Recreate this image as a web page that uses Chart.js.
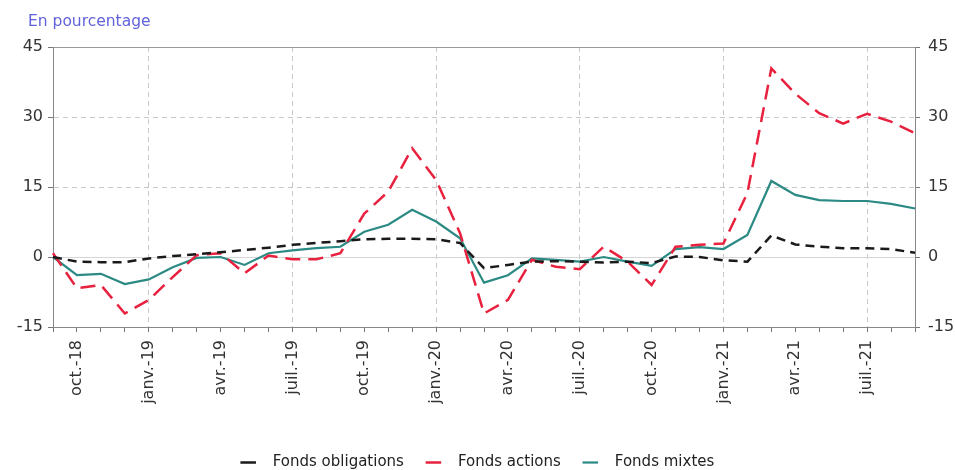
<!DOCTYPE html>
<html><head><meta charset="utf-8">
<script src="https://cdn.jsdelivr.net/npm/chart.js@4.4.1/dist/chart.umd.min.js"></script>
<style>
html,body{margin:0;padding:0;overflow:hidden;background:#fff;}
#wrap{position:relative;width:955px;height:480px;}
#title{position:absolute;left:28px;top:12px;font:15.5px "DejaVu Sans";color:#6262dc;}
canvas{display:block;}
</style></head><body>
<div id="wrap"><div id="title">En pourcentage</div><canvas id="c" width="955" height="480"></canvas></div>
<script>
const categories = [
  "sept.-18","oct.-18","nov.-18","déc.-18",
  "janv.-19","févr.-19","mars-19","avr.-19","mai-19","juin-19","juil.-19","août-19","sept.-19","oct.-19","nov.-19","déc.-19",
  "janv.-20","févr.-20","mars-20","avr.-20","mai-20","juin-20","juil.-20","août-20","sept.-20","oct.-20","nov.-20","déc.-20",
  "janv.-21","févr.-21","mars-21","avr.-21","mai-21","juin-21","juil.-21","août-21","sept.-21"
];
const tickLabels = ["oct.-18","janv.-19","avr.-19","juil.-19","oct.-19","janv.-20","avr.-20","juil.-20","oct.-20","janv.-21","avr.-21","juil.-21"];
const gridLabels = ["janv.-19","juil.-19","janv.-20","juil.-20","janv.-21","juil.-21"];
const yTicks = [-15, 0, 15, 30, 45];

const fondsObligations = [0, -1.0, -1.1, -1.1, -0.3, 0.2, 0.6, 1.0, 1.5, 2.0, 2.6, 3.0, 3.4, 3.8, 3.9, 3.9, 3.8, 3.0, -2.4, -1.7, -1.0, -0.9, -1.0, -1.2, -1.0, -1.3, 0.1, 0.0, -0.7, -1.0, 4.6, 2.7, 2.2, 1.9, 1.9, 1.7, 0.9];
const fondsActions = [0.8, -6.7, -6.0, -12.1, -9.2, -4.3, 0.4, 0.8, -3.5, 0.3, -0.5, -0.5, 0.8, 9.3, 14.0, 23.3, 16.5, 5.1, -12.1, -9.2, -0.6, -2.1, -2.6, 2.2, -1.0, -6.0, 2.2, 2.6, 2.9, 13.7, 40.4, 35.0, 30.8, 28.6, 30.7, 29.0, 26.5];
const fondsMixtes = [0, -3.9, -3.6, -5.8, -4.8, -2.2, -0.2, 0.0, -1.7, 0.8, 1.4, 1.9, 2.2, 5.4, 6.9, 10.1, 7.6, 4.0, -5.5, -3.9, -0.3, -0.6, -1.0, 0.0, -1.0, -1.9, 1.7, 2.1, 1.7, 4.7, 16.3, 13.3, 12.2, 12.0, 12.0, 11.4, 10.4];

const FONT = "DejaVu Sans";
const TRANSP = "rgba(0,0,0,0)";

new Chart(document.getElementById("c"), {
  type: "line",
  data: {
    labels: categories,
    datasets: [
      { label: "Fonds obligations", data: fondsObligations, borderColor: "#1a1a1a", backgroundColor: "#1a1a1a", borderWidth: 2.5, borderDash: [9, 6], pointRadius: 0, tension: 0, fill: false },
      { label: "Fonds actions", data: fondsActions, borderColor: "#e8213f", backgroundColor: "#e8213f", borderWidth: 2.5, borderDash: [15, 8], pointRadius: 0, tension: 0, fill: false },
      { label: "Fonds mixtes", data: fondsMixtes, borderColor: "#2b8a84", backgroundColor: "#2b8a84", borderWidth: 2.2, pointRadius: 0, tension: 0, fill: false }
    ]
  },
  options: {
    responsive: false,
    animation: false,
    devicePixelRatio: 1,
    layout: { padding: { top: 47, left: 0, right: 0, bottom: 0 } },
    plugins: {
      tooltip: { enabled: false },
      legend: {
        position: "bottom",
        labels: {
          usePointStyle: true,
          boxHeight: 11,
          padding: 22,
          color: "#222",
          font: { family: FONT, size: 15 },
          generateLabels(chart) {
            const items = Chart.defaults.plugins.legend.labels.generateLabels(chart);
            items.forEach(it => { it.lineDash = []; it.pointStyle = "line"; it.text = "  " + it.text; });
            return items;
          }
        }
      }
    },
    scales: {
      x: {
        type: "category",
        offset: false,
        grid: {
          color: ctx => gridLabels.includes(categories[ctx.index]) ? "#c8c8c8" : TRANSP,
          tickColor: "#777",
          tickLength: 5,
          lineWidth: 1
        },
        border: { display: true, color: "#888", dash: [5, 4] },
        ticks: {
          autoSkip: false, minRotation: 90, maxRotation: 90, padding: 8,
          color: "#333", font: { family: FONT, size: 16 },
          callback: (v, i) => tickLabels.includes(categories[i]) ? categories[i] : ""
        },
        afterFit(s) { s.height = 106; }
      },
      y: {
        position: "left",
        min: yTicks[0], max: yTicks[yTicks.length - 1],
        afterBuildTicks(s) { s.ticks = yTicks.map(v => ({ value: v })); },
        ticks: { padding: 5, color: "#333", font: { family: FONT, size: 16 } },
        grid: {
          color: ctx => (ctx.tick && (ctx.tick.value === 15 || ctx.tick.value === 30)) ? "#c8c8c8" : TRANSP,
          tickColor: "#777", tickLength: 5
        },
        border: { display: true, color: "#888", dash: [5, 4] },
        afterFit(s) { s.width = 53; }
      },
      y2: {
        position: "right",
        min: yTicks[0], max: yTicks[yTicks.length - 1],
        afterBuildTicks(s) { s.ticks = yTicks.map(v => ({ value: v })); },
        ticks: { padding: 8, color: "#333", font: { family: FONT, size: 16 } },
        grid: {
          color: ctx => !ctx.tick ? TRANSP : (ctx.tick.value === 0 ? "#d6d6d6" : (ctx.tick.value === 45 ? "#9a9a9a" : TRANSP)),
          tickColor: "#777", tickLength: 5
        },
        border: { display: true, color: "#888" },
        afterFit(s) { s.width = 40; }
      }
    }
  }
});
</script>
</body></html>
